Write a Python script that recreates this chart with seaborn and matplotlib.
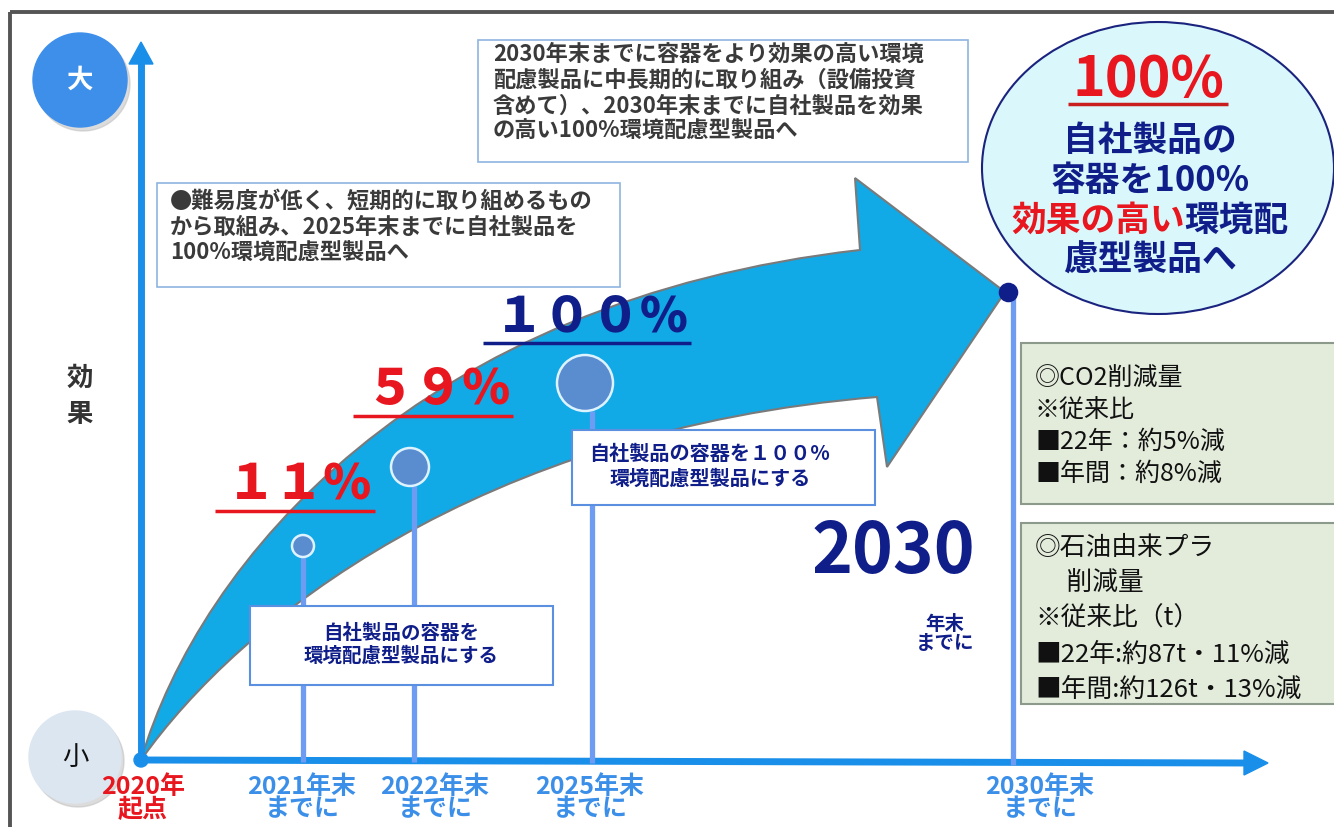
import matplotlib
matplotlib.use("Agg")
import matplotlib.pyplot as plt
import seaborn as sns
import pandas as pd
from matplotlib.patches import Circle, Ellipse, Rectangle, PathPatch, Polygon
from matplotlib.path import Path

# --- データ ---
milestones = ["2020年\n起点", "2021年末\nまでに", "2022年末\nまでに", "2025年末\nまでに", "2030年末\nまでに"]
rates = ["１１%", "５９%", "１００%"]
rate_colors = ["#E8161E", "#E8161E", "#101E8A"]
marker_sizes = [251, 748, 1626]

box_short = "●難易度が低く、短期的に取り組めるもの\nから取組み、2025年末までに自社製品を\n100%環境配慮型製品へ"
box_long = ("2030年末までに容器をより効果の高い環境\n配慮製品に中長期的に取り組み（設備投資\n"
            "含めて）、2030年末までに自社製品を効果\nの高い100%環境配慮型製品へ")
box_2022 = "自社製品の容器を\n環境配慮型製品にする"
box_2025 = "自社製品の容器を１００%\n環境配慮型製品にする"
co2_lines = ["◎CO2削減量", "※従来比", "■22年：約5%減", "■年間：約8%減"]
pla_lines = ["◎石油由来プラ", "　 削減量", "※従来比（t）", "■22年:約87t・11%減", "■年間:約126t・13%減"]
goal_lines = ["自社製品の", "容器を100%", None, "慮型製品へ"]

# --- レイアウト（ピクセル座標）---
RED = "#E8161E"
NAVY = "#101E8A"
AXIS_BLUE = "#1A8FEA"
STEM_BLUE = "#6E9CF2"
LABEL_BLUE = "#3B8FE8"

x0, y0 = 141, 760
label_x = [143, 302, 435, 590, 1040]
stem_x = [303, 414, 592, 1013]
stem_top = [556, 486, 411, 292]
marker_x = [303, 410, 585]
marker_y = [546, 467, 383]
rate_pos = [(300, 485), (438, 390), (592, 317)]

sns.set_theme(style="white")
plt.rcParams['font.family'] = ['Noto Sans CJK JP', 'DejaVu Sans']

fig = plt.figure(figsize=(13.34, 8.27), dpi=100)
ax = fig.add_axes([0, 0, 1, 1])
ax.set_xlim(0, 1334)
ax.set_ylim(827, 0)
ax.axis("off")

# 外枠
ax.plot([10, 1334], [12, 12], color="#555555", lw=2.8, solid_capstyle="butt")
ax.plot([10, 10], [12, 827], color="#555555", lw=2.8, solid_capstyle="butt")

# 大きな矢印
verts = [(x0, y0), (200, 560), (420, 300), (860, 250),
         (855, 178), (1005, 292), (887, 467), (877, 397),
         (480, 430), (240, 620), (x0, y0), (x0, y0)]
codes = [Path.MOVETO, Path.CURVE4, Path.CURVE4, Path.CURVE4,
         Path.LINETO, Path.LINETO, Path.LINETO, Path.LINETO,
         Path.CURVE4, Path.CURVE4, Path.CURVE4, Path.CLOSEPOLY]
ax.add_patch(PathPatch(Path(verts, codes), facecolor="#12A9E7", edgecolor="#7A7A7A", lw=1.5, zorder=2))

# 軸
ax.plot([x0, x0], [y0, 62], color=AXIS_BLUE, lw=5, zorder=3, solid_capstyle="butt")
ax.add_patch(Polygon([(x0 - 12, 64), (x0 + 12, 64), (x0, 42)], color=AXIS_BLUE, zorder=3))
ax.plot([x0, 1246], [y0, 763], color=AXIS_BLUE, lw=5, zorder=3, solid_capstyle="butt")
ax.add_patch(Polygon([(1244, 751), (1244, 775), (1268, 763)], color=AXIS_BLUE, zorder=3))
ax.add_patch(Circle((x0, y0), 7, color=AXIS_BLUE, zorder=4))

# 縦線
ax.vlines(stem_x, stem_top, [762, 762, 763, 765], color=STEM_BLUE, lw=3.8, zorder=3)

# 大・小
ax.add_patch(Circle((83, 84), 47, color="#BBBBBB", alpha=0.5, zorder=3))
ax.add_patch(Circle((80, 80), 47, color="#3D8FEA", zorder=4))
ax.text(80, 80, "大", color="white", fontsize=19, fontweight="bold", ha="center", va="center", zorder=5)
ax.add_patch(Circle((78, 761), 46, color="#BBBBBB", alpha=0.5, zorder=3))
ax.add_patch(Circle((75, 757), 46, color="#DCE6F1", zorder=4))
ax.text(75, 757, "小", color="#111111", fontsize=19, ha="center", va="center", zorder=5)
ax.text(80, 378, "効", color="#333333", fontsize=19, fontweight="bold", ha="center", va="center")
ax.text(80, 414, "果", color="#333333", fontsize=19, fontweight="bold", ha="center", va="center")

# マイルストーンの円
df_m = pd.DataFrame({"x": marker_x, "y": marker_y})
sns.scatterplot(data=df_m, x="x", y="y", s=marker_sizes, color="#5A8CD0", edgecolor="#DDF3FF",
                linewidth=1.8, ax=ax, zorder=6, legend=False)
sns.scatterplot(x=[1008], y=[292], s=170, color=NAVY, edgecolor=NAVY, ax=ax, zorder=6, legend=False)
ax.set_xlim(0, 1334)
ax.set_ylim(827, 0)
ax.axis("off")

# テキストボックス
ax.add_patch(Rectangle((157, 183), 463, 104, facecolor="white", edgecolor="#8DB4E2", lw=1.2, zorder=5))
ax.text(170, 190, box_short, color="#3A3A3A", fontsize=16, fontweight="bold", va="top", ha="left",
        linespacing=1.15, zorder=6)
ax.add_patch(Rectangle((478, 40), 490, 122, facecolor="white", edgecolor="#8DB4E2", lw=1.2, zorder=5))
ax.text(493, 43, box_long, color="#3A3A3A", fontsize=16, fontweight="bold", va="top", ha="left",
        linespacing=1.15, zorder=6)
ax.add_patch(Rectangle((250, 606), 303, 79, facecolor="white", edgecolor="#5B8FE0", lw=1.5, zorder=5))
ax.text(401, 645, box_2022, color=NAVY, fontsize=14, fontweight="bold", ha="center", va="center",
        linespacing=1.2, zorder=6)
ax.add_patch(Rectangle((572, 430), 303, 75, facecolor="white", edgecolor="#5B8FE0", lw=1.5, zorder=5))
ax.text(710, 466, box_2025, color=NAVY, fontsize=14.5, fontweight="bold", ha="center", va="center",
        linespacing=1.2, zorder=6)

# 緑のボックス
ax.add_patch(Rectangle((1021, 343), 320, 161, facecolor="#E3ECDB", edgecolor="#8C9A8C", lw=1.5, zorder=5))
for i, line in enumerate(co2_lines):
    ax.text(1035, 378 + i * 32, line, color="#111111", fontsize=18, ha="left", va="center", zorder=6)
ax.add_patch(Rectangle((1021, 523), 320, 181, facecolor="#E3ECDB", edgecolor="#8C9A8C", lw=1.5, zorder=5))
for i, line in enumerate(pla_lines):
    ax.text(1035, 548 + i * 35.5, line, color="#111111", fontsize=18.5, ha="left", va="center", zorder=6)

# 2030
ax.text(893, 553, "2030", color=NAVY, fontsize=50, fontweight="bold", ha="center", va="center", zorder=6)
ax.text(945, 634, "年末\nまでに", color=NAVY, fontsize=14, fontweight="bold", ha="center", va="center",
        linespacing=1.0, zorder=6)

# 楕円
ax.add_patch(Ellipse((1158, 168), 352, 292, facecolor="#DAF8FB", edgecolor="#1A237E", lw=1.5, zorder=5))
renderer = fig.canvas.get_renderer()
inv = ax.transData.inverted()


def underline(t, color, pad_left=10, pad_right=2, dy=4, lw=2.5):
    bb = t.get_window_extent(renderer=renderer)
    (xa, ya), (xb, yb) = inv.transform([(bb.x0, bb.y0), (bb.x1, bb.y1)])
    ax.plot([xa - pad_left, xb + pad_right], [ya + dy, ya + dy], color=color, lw=lw, zorder=7,
            solid_capstyle="butt")


t = ax.text(1148, 80, "100%", color=RED, fontsize=40, fontweight="bold", ha="center", va="center", zorder=6)
underline(t, "#C81E1E", pad_left=4, pad_right=4, dy=-4)
for i, line in enumerate(goal_lines):
    yy = 140 + i * 40
    if line is not None:
        ax.text(1150, yy, line, color=NAVY, fontsize=25, fontweight="bold", ha="center", va="center", zorder=6)
    else:
        ta = ax.text(0, yy, "効果の高い", color=RED, fontsize=25, fontweight="bold", ha="left", va="center", zorder=6)
        tb = ax.text(0, yy, "環境配", color=NAVY, fontsize=25, fontweight="bold", ha="left", va="center", zorder=6)
        ea, eb = ta.get_window_extent(renderer), tb.get_window_extent(renderer)
        wa = inv.transform([(ea.x1, 0)])[0][0] - inv.transform([(ea.x0, 0)])[0][0]
        wb = inv.transform([(eb.x1, 0)])[0][0] - inv.transform([(eb.x0, 0)])[0][0]
        start = 1150 - (wa + wb) / 2
        ta.set_x(start)
        tb.set_x(start + wa)

# 達成率
for label, color, (px, py) in zip(rates, rate_colors, rate_pos):
    t = ax.text(px, py, label, color=color, fontsize=35, fontweight="heavy", ha="center", va="center", zorder=7)
    underline(t, color, pad_left=12, pad_right=2, dy=2, lw=2.5)

# 横軸ラベル
for i, (lab, lx) in enumerate(zip(milestones, label_x)):
    ax.text(lx, 775, lab, color=RED if i == 0 else LABEL_BLUE, fontsize=18, fontweight="bold",
            ha="center", va="top", linespacing=0.92, zorder=6)

fig.savefig("out.png", dpi=100)
